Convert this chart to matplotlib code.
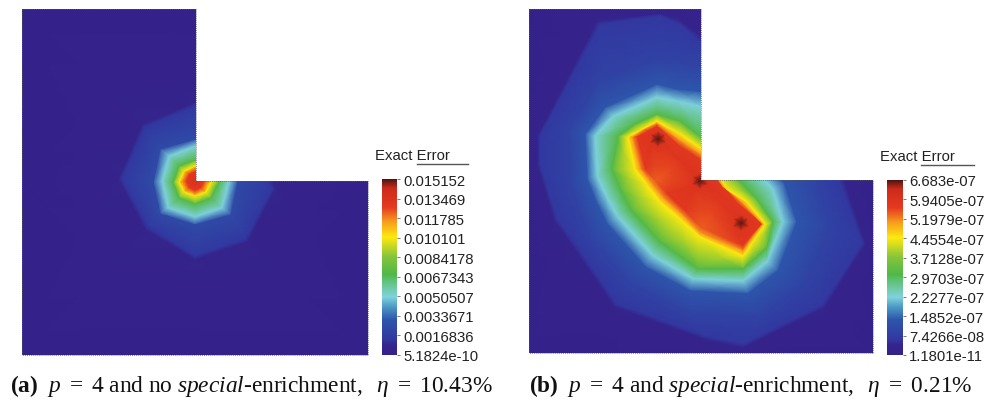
import matplotlib
matplotlib.use('Agg')
import matplotlib.pyplot as plt
from matplotlib.cm import ScalarMappable
from matplotlib.colors import LinearSegmentedColormap, Normalize
from matplotlib.patches import Polygon

plt.rcParams['font.family'] = ['Liberation Sans', 'DejaVu Sans']
plt.rcParams['mathtext.fontset'] = 'custom'
plt.rcParams['mathtext.rm'] = 'Liberation Serif'
plt.rcParams['mathtext.it'] = 'Liberation Serif:italic'
plt.rcParams['mathtext.bf'] = 'Liberation Serif:bold'
plt.rcParams['mathtext.fallback'] = 'stix'

# colour table
cmap_stops = [0.0, 0.055, 0.09, 0.2, 0.27, 0.33, 0.4, 0.46, 0.56, 0.67, 0.76, 0.84, 0.95, 1.0]
cmap_colors = ['#35218a', '#35248c', '#3238a0', '#2d55ab', '#4a95c4', '#7fd2dc', '#68c690', '#4fb848',
               '#86c53a', '#fde90f', '#f79a1d', '#e53a20', '#cc2a1b', '#4c1410']

# tick labels of both colour bars, top to bottom
a_ticks = ['0.015152', '0.013469', '0.011785', '0.010101', '0.0084178', '0.0067343',
           '0.0050507', '0.0033671', '0.0016836', '5.1824e-10']
b_ticks = ['6.683e-07', '5.9405e-07', '5.1979e-07', '4.4554e-07', '3.7128e-07', '2.9703e-07',
           '2.2277e-07', '1.4852e-07', '7.4266e-08', '1.1801e-11']

# error field of panel a: rings of mesh nodes (pixel positions) running W, SW, S, SE, E, NE, N, NW
# and the value on each ring as a share of the maximum
a_levels = [0.9, 0.84, 0.67, 0.47, 0.33, 0.16, 0.09, 0.05, 0.0]
a_rings = [
    [(195, 182)] * 8,
    [(186, 182), (189, 189), (195, 192), (201, 189), (204, 182), (201, 175), (195, 172), (189, 175)],
    [(179, 183), (184, 193), (195, 197), (206, 193), (211, 183), (206, 172), (195, 167), (184, 172)],
    [(173, 183), (179, 199), (195, 205), (211, 199), (219, 183), (211, 167), (195, 161), (179, 167)],
    [(162, 182), (168, 209), (195, 218), (222, 209), (229, 183), (222, 155), (195, 147), (169, 157)],
    [(153, 183), (160, 215), (195, 226), (231, 216), (238, 183), (230, 150), (195, 140), (160, 150)],
    [(122, 180), (148, 228), (195, 257), (245, 240), (272, 190), (245, 130), (195, 107), (145, 128)],
    [(118, 180), (145, 231), (195, 261), (248, 243), (276, 190), (248, 127), (195, 103), (142, 125)],
    [(22, 182), (22, 356), (195, 356), (368, 356), (368, 182), (368, 10), (195, 10), (22, 10)],
]

# error field of panel b: same idea, the rings wrap the ridge through the three peaks
b_levels = [
    [0.89, 0.89, 0.89, 0.89, 0.86, 0.89, 0.89, 0.86, 0.89, 0.89, 0.89, 0.87, 0.89, 0.89, 0.87],
    [0.88, 0.88, 0.88, 0.88, 0.83, 0.88, 0.88, 0.83, 0.88, 0.88, 0.88, 0.87, 0.88, 0.88, 0.87],
    [0.85] * 4 + [0.81] + [0.85] * 2 + [0.81] + [0.85] * 7,
    [0.76] * 15,
    [0.67] * 15,
    [0.47] * 15,
    [0.33] * 15,
    [0.2] * 15,
    [0.13] * 15,
    [0.09] * 15,
    [0.05] * 15,
    [0.0] * 15,
]
pk1, pk2, pk3 = (658, 140), (700, 182), (741, 224)
mid1, mid2 = (679, 161), (720, 203)
b_rings = [
    [pk1, pk1, pk1, pk1, mid1, pk2, pk2, mid2, pk3, pk3, pk3, mid2, pk2, pk2, mid1],
    [(658, 133), (653, 135), (651, 137), (652, 147), (670, 170), (693, 186), (695, 190), (711, 214),
     (736, 231), (747, 229), (749, 224), (729, 202), (708, 182), (700, 175), (672, 152)],
    [(657, 127), (647, 132), (637, 138), (645, 170), (655, 182), (667, 195), (685, 212), (701, 229),
     (743, 247), (752, 236), (762, 225), (737, 203), (720, 183), (700, 160), (680, 147)],
    [(657, 124), (644, 130), (632, 138), (640, 170), (651, 184), (663, 199), (682, 216), (700, 234),
     (743, 252), (753, 238), (763, 225), (742, 203), (723, 187), (701, 155), (680, 141)],
    [(657, 122), (642, 130), (628, 138), (635, 170), (647, 186), (660, 203), (680, 220), (700, 238),
     (743, 257), (754, 241), (765, 225), (747, 203), (727, 190), (702, 150), (680, 135)],
    [(657, 115), (635, 125), (618, 137), (612, 170), (620, 190), (630, 210), (660, 243), (698, 270),
     (743, 270), (767, 249), (773, 223), (757, 200), (733, 175), (700, 137), (680, 122)],
    [(657, 98), (613, 117), (595, 137), (597, 177), (606, 197), (617, 217), (653, 257), (693, 280),
     (743, 282), (767, 263), (783, 223), (773, 190), (757, 173), (700, 107), (678, 102)],
    [(657, 85), (605, 108), (585, 135), (587, 180), (596, 203), (607, 225), (645, 268), (690, 292),
     (748, 295), (778, 272), (797, 223), (785, 185), (770, 165), (700, 92), (678, 90)],
    [(657, 60), (600, 80), (568, 130), (570, 185), (580, 215), (590, 240), (630, 285), (690, 315),
     (760, 318), (805, 285), (830, 230), (815, 170), (760, 120), (700, 65), (680, 62)],
    [(660, 17), (600, 25), (540, 137), (540, 165), (557, 220), (572, 240), (617, 305), (705, 337),
     (743, 345), (822, 306), (862, 245), (840, 182), (780, 100), (697, 40), (680, 25)],
    [(660, 14), (597, 22), (537, 137), (537, 166), (554, 222), (569, 243), (614, 308), (705, 341),
     (743, 349), (825, 309), (866, 245), (844, 180), (784, 97), (700, 36), (680, 21)],
    [(660, 0), (529, 10), (520, 100), (520, 180), (529, 260), (529, 354), (620, 360), (680, 360),
     (740, 360), (873, 354), (880, 240), (873, 182), (873, 10), (700, 0), (680, 0)],
]

# dark spots on the three peaks: value at the peak and at the rim of the spot
peak_levels = [1.0, 0.89]
peak_rims = [
    [(658, 133), (664, 136), (665, 143), (658, 147), (651, 143), (652, 136)],
    [(700, 175), (706, 178), (707, 185), (700, 189), (693, 185), (694, 178)],
    [(741, 217), (747, 220), (748, 227), (741, 231), (734, 227), (735, 220)],
]

# panel outlines: left, top, right, bottom, corner x, corner y
a_box = (22, 10, 368, 356, 195.5, 182)
b_box = (529, 10, 873, 354, 700.5, 181)

cmap = LinearSegmentedColormap.from_list('exact', list(zip(cmap_stops, cmap_colors)), N=512)

fig = plt.figure(figsize=(9.87, 4.02), dpi=100)
ax = fig.add_axes([0, 0, 1, 1])
ax.set_xlim(0, 987)
ax.set_ylim(402, 0)
ax.axis('off')


def draw_field(levels, rings, box):
    xs = [[p[0] for p in ring + ring[:1]] for ring in rings]
    ys = [[p[1] for p in ring + ring[:1]] for ring in rings]
    vals = []
    for level, ring in zip(levels, rings):
        row = list(level) if isinstance(level, list) else [level] * len(ring)
        vals.append(row + row[:1])
    mesh = ax.pcolormesh(xs, ys, vals, shading='gouraud', cmap=cmap, vmin=0, vmax=1)
    l, t, r, b, cx, cy = box
    outline = [(l, t), (cx, t), (cx, cy), (r, cy), (r, b), (l, b)]
    clip = Polygon(outline, closed=True, transform=ax.transData, fc='none', ec='none')
    ax.add_patch(clip)
    mesh.set_clip_path(clip)
    return outline


def draw_edge(outline):
    # thin dotted mesh edge around the domain
    ax.plot([p[0] for p in outline] + [outline[0][0]], [p[1] for p in outline] + [outline[0][1]],
            color='#55585f', lw=0.7, ls=(0, (1, 1)), alpha=0.7)


def draw_bar(ticks, x0, x1, y0, y1, title_x, line_x0, line_x1, line_y):
    vals = [float(t) for t in ticks]
    cax = fig.add_axes([x0 / 987, 1 - y1 / 402, (x1 - x0) / 987, (y1 - y0) / 402])
    sm = ScalarMappable(norm=Normalize(vals[-1], vals[0]), cmap=cmap)
    cb = fig.colorbar(sm, cax=cax)
    cb.outline.set_visible(False)
    cb.set_ticks(vals)
    cb.set_ticklabels(ticks)
    cax.tick_params(axis='y', length=2, width=0.7, color='#777777', pad=2.5, labelsize=10.7, labelcolor='#222222')
    ax.text(title_x, line_y - 9, 'Exact Error', fontsize=10.7, color='#222222', va='center', ha='left')
    ax.plot([line_x0, line_x1], [line_y, line_y], color='#555555', lw=1.0)


draw_edge(draw_field(a_levels, a_rings, a_box))
b_outline = draw_field(b_levels, b_rings, b_box)
for pk, rim in zip([pk1, pk2, pk3], peak_rims):
    draw_field(peak_levels, [[pk] * len(rim), rim], b_box)
draw_edge(b_outline)
draw_bar(a_ticks, 382, 397, 180, 356, 375, 417, 468, 165)
draw_bar(b_ticks, 887, 903, 181, 356, 880, 921, 974, 166)

ax.text(10, 386, r'$\mathbf{(a)}\ \ p\ =\ 4\ \mathrm{and\ no\ }special\mathrm{\text{-}enrichment,}\ \ \eta\ =\ \mathrm{10.43\%}$',
        fontsize=16.8, color='#111111', va='center', ha='left')
ax.text(529, 386, r'$\mathbf{(b)}\ \ p\ =\ 4\ \mathrm{and\ }special\mathrm{\text{-}enrichment,}\ \ \eta\ =\ \mathrm{0.21\%}$',
        fontsize=16.8, color='#111111', va='center', ha='left')

fig.savefig('out.png', dpi=100)
